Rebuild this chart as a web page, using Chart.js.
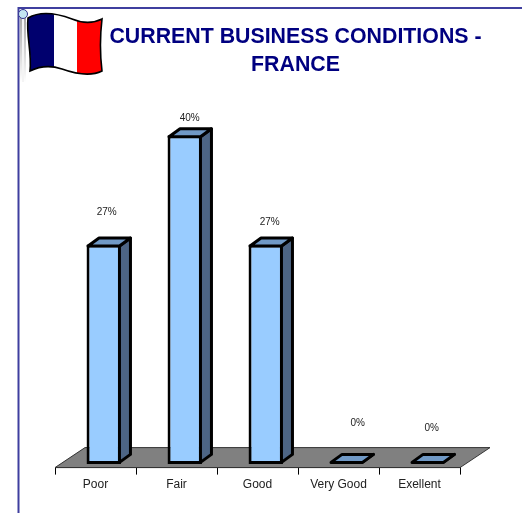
<!DOCTYPE html>
<html>
<head>
<meta charset="utf-8">
<style>
  html, body { margin: 0; padding: 0; background: #fff; }
  #wrap { width: 522px; height: 513px; }
</style>
<script src="https://cdn.jsdelivr.net/npm/chart.js@4"></script>
</head>
<body>
<div id="wrap"><canvas id="myChart" width="522" height="513"></canvas></div>
<script>
'use strict'

var categories = ['Poor', 'Fair', 'Good', 'Very Good', 'Exellent'];
var shares = [26.7, 40, 26.7, 0, 0];
var titleLines = ['CURRENT BUSINESS CONDITIONS -', 'FRANCE'];

// how far each value label sits from the top of its bar
var labelLift = [24.6, 9, 14.6, 33, 28];
var labelShift = [-8, -6, -7, 0, -7];

var depthX = 11, depthY = -8, barShift = 8.25;

function flag(ctx) {
  function outline() {
    ctx.beginPath();
    ctx.moveTo(28, 18);
    ctx.bezierCurveTo(40, 11, 56, 13, 72, 19);
    ctx.bezierCurveTo(84, 24, 94, 23, 102, 19);
    ctx.bezierCurveTo(100, 36, 100, 55, 102, 71);
    ctx.bezierCurveTo(90, 77, 76, 74, 62, 69);
    ctx.bezierCurveTo(50, 65, 40, 66, 30, 71);
    ctx.bezierCurveTo(32, 52, 26, 36, 28, 18);
    ctx.closePath();
  }
  // pole
  var pole = ctx.createLinearGradient(0, 18, 0, 82);
  pole.addColorStop(0, '#a8a8a8');
  pole.addColorStop(1, '#ffffff');
  ctx.fillStyle = pole;
  ctx.fillRect(20, 18, 6, 64);
  ctx.fillStyle = '#f4f4f4';
  ctx.fillRect(22, 18, 2, 64);
  ctx.beginPath();
  ctx.arc(23, 14, 4.5, 0, Math.PI * 2);
  ctx.fillStyle = '#c4e6f2';
  ctx.fill();
  ctx.strokeStyle = '#33338f';
  ctx.lineWidth = 1;
  ctx.stroke();

  ctx.save();
  outline();
  ctx.clip();
  ctx.fillStyle = '#00006e';
  ctx.fillRect(20, 5, 34, 80);
  ctx.fillStyle = '#ffffff';
  ctx.fillRect(54, 5, 23, 80);
  ctx.fillStyle = '#ff0000';
  ctx.fillRect(77, 5, 30, 80);
  ctx.restore();
  outline();
  ctx.strokeStyle = '#000';
  ctx.lineWidth = 1.6;
  ctx.stroke();
}

var bars3d = {
  id: 'bars3d',
  afterLayout: function(chart) {
    // title is centred over the space right of the flag
    chart.titleBlock.left += 38;
    chart.titleBlock.right += 38;
  },
  beforeDraw: function(chart) {
    var ctx = chart.ctx;
    ctx.save();
    ctx.fillStyle = '#fff';
    ctx.fillRect(0, 0, chart.width, chart.height);
    ctx.strokeStyle = '#3f3f9f';
    ctx.lineWidth = 2;
    ctx.beginPath();
    ctx.moveTo(18.5, 513);
    ctx.lineTo(18.5, 8);
    ctx.lineTo(522, 8);
    ctx.stroke();
    flag(ctx);
    ctx.restore();
  },
  beforeDatasetsDraw: function(chart) {
    var ctx = chart.ctx, area = chart.chartArea;
    ctx.save();
    ctx.beginPath();
    ctx.moveTo(area.left, area.bottom);
    ctx.lineTo(area.right, area.bottom);
    ctx.lineTo(area.right + 30, area.bottom - 20);
    ctx.lineTo(area.left + 30, area.bottom - 20);
    ctx.closePath();
    ctx.fillStyle = '#808080';
    ctx.fill();
    ctx.strokeStyle = '#333';
    ctx.lineWidth = 1;
    ctx.stroke();
    ctx.restore();
  },
  beforeDatasetDraw: function(chart) {
    chart.ctx.save();
    chart.ctx.translate(barShift, 0);
  },
  afterDatasetDraw: function(chart, args) {
    var ctx = chart.ctx;
    args.meta.data.forEach(function(bar) {
      var l = bar.x - bar.width / 2 + 1.5, r = bar.x + bar.width / 2 - 1.5;
      var t = bar.y + 1.5, b = bar.base - 1.5;
      if (b < t) { t = b = bar.base - 1.5; }
      ctx.lineWidth = 3;
      ctx.lineJoin = 'round';
      ctx.strokeStyle = '#000';
      // side
      ctx.beginPath();
      ctx.moveTo(r, t);
      ctx.lineTo(r + depthX, t + depthY);
      ctx.lineTo(r + depthX, b + depthY);
      ctx.lineTo(r, b);
      ctx.closePath();
      ctx.fillStyle = '#4d6585';
      ctx.fill();
      ctx.stroke();
      // top
      ctx.beginPath();
      ctx.moveTo(l, t);
      ctx.lineTo(l + depthX, t + depthY);
      ctx.lineTo(r + depthX, t + depthY);
      ctx.lineTo(r, t);
      ctx.closePath();
      ctx.fillStyle = '#7099c6';
      ctx.fill();
      ctx.stroke();
    });
    ctx.restore();
  },
  afterDatasetsDraw: function(chart) {
    var ctx = chart.ctx;
    ctx.save();
    ctx.font = '10px "Liberation Sans"';
    ctx.fillStyle = '#222';
    ctx.textAlign = 'center';
    ctx.textBaseline = 'middle';
    chart.getDatasetMeta(0).data.forEach(function(bar, i) {
      var x = bar.x + barShift + depthX + labelShift[i];
      var y = bar.y + depthY - labelLift[i];
      ctx.fillText(Math.round(shares[i]) + '%', x, y);
    });
    ctx.restore();
  }
};

var chart = new Chart(document.getElementById('myChart').getContext('2d'), {
  type: 'bar',
  plugins: [bars3d],
  data: {
    labels: categories,
    datasets: [{
      data: shares,
      backgroundColor: '#99ccff',
      borderColor: '#000',
      borderWidth: 3,
      borderSkipped: false,
      barPercentage: 0.425,
      categoryPercentage: 1
    }]
  },
  options: {
    responsive: false,
    animation: false,
    layout: { padding: { left: 55, right: 62, top: 23, bottom: 18 } },
    plugins: {
      legend: { display: false },
      tooltip: { enabled: false },
      title: {
        display: true,
        text: titleLines,
        color: '#000080',
        font: { family: '"Liberation Sans"', size: 21.33, weight: 'bold', lineHeight: 1.31 },
        padding: { top: 0, bottom: 0 }
      }
    },
    scales: {
      x: {
        offset: true,
        grid: { offset: true, drawOnChartArea: false, color: '#000', tickLength: 7, tickColor: '#000' },
        border: { color: '#000' },
        ticks: {
          color: '#222',
          padding: 3,
          maxRotation: 0,
          font: { family: '"Liberation Sans"', size: 12 }
        }
      },
      y: { display: false, min: -0.45, max: 46.87 }
    }
  }
});
</script>
</body>
</html>
